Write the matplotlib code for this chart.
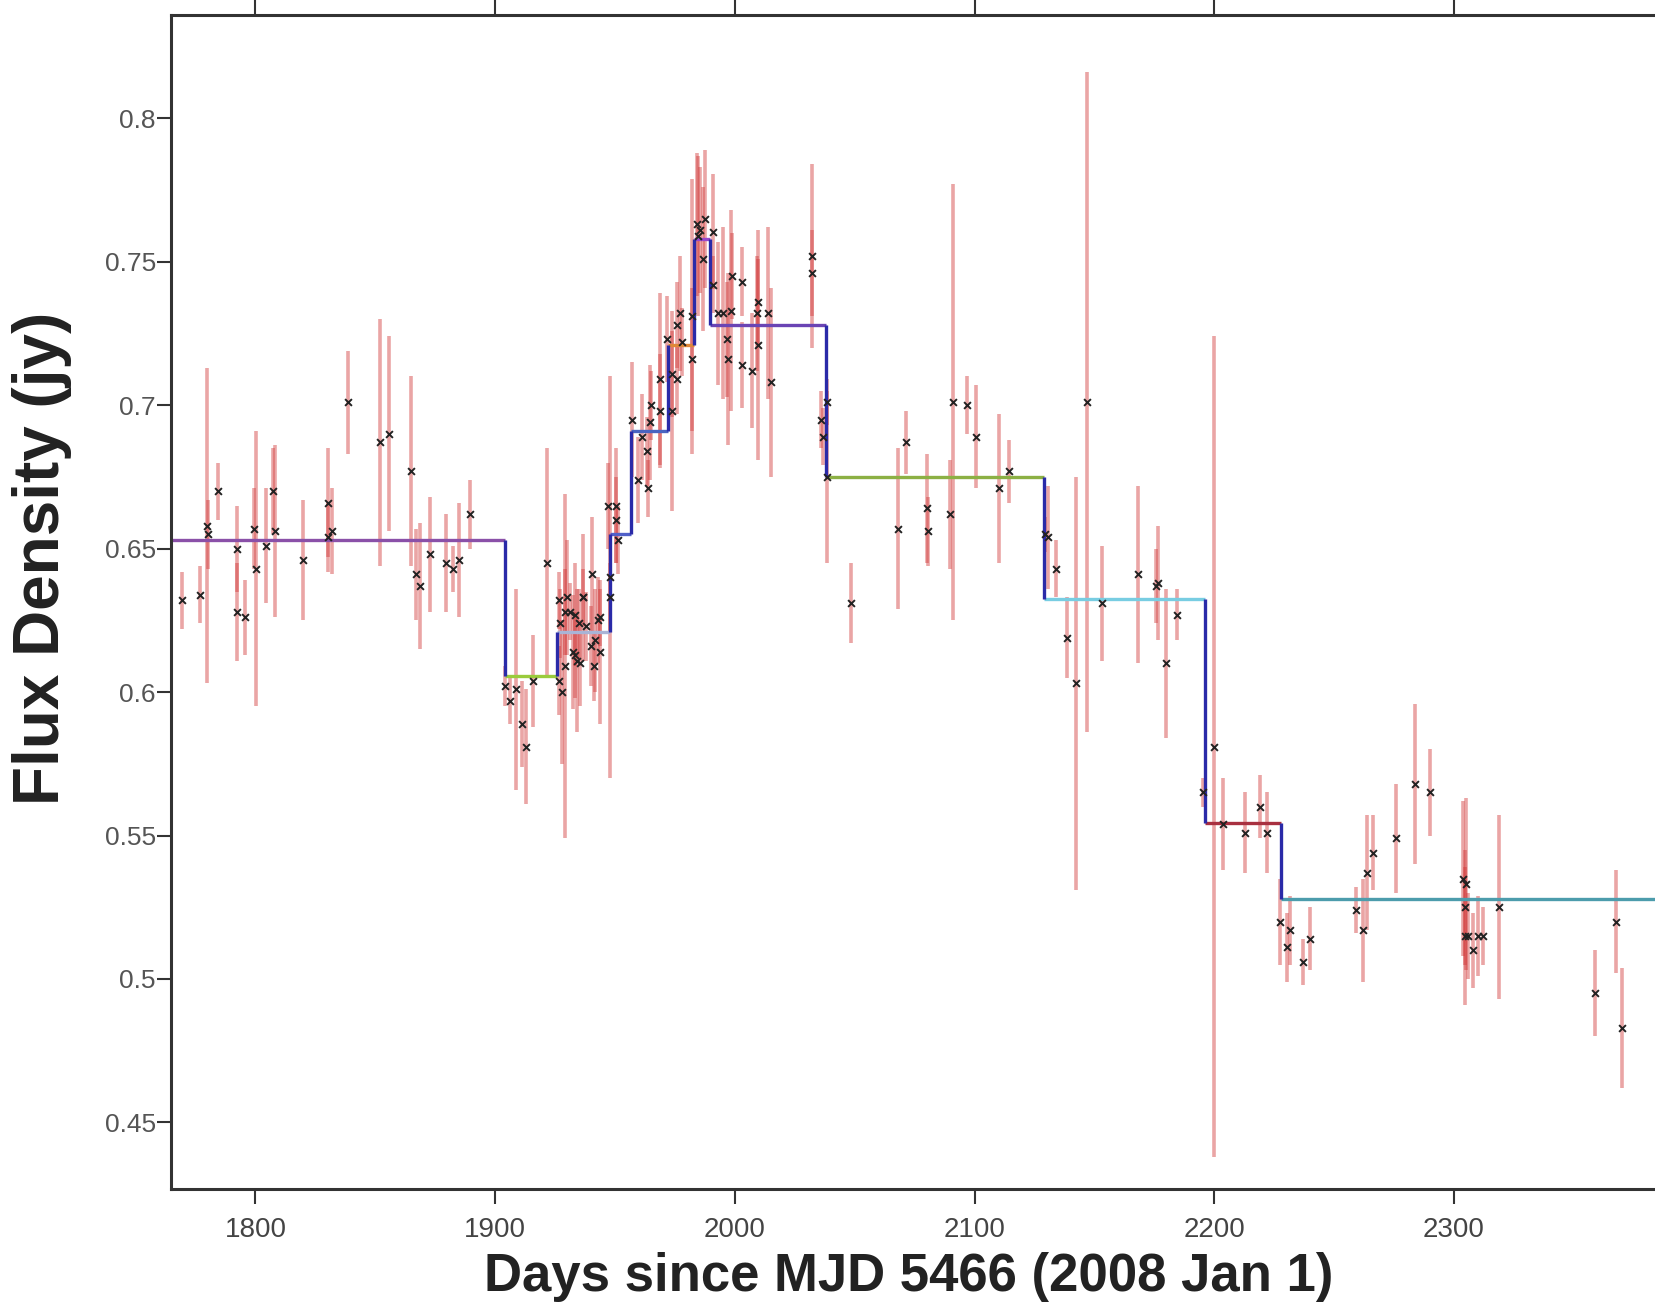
import numpy as np
import matplotlib
matplotlib.use("Agg")
from matplotlib import pyplot as plt

plt.rcParams['font.family'] = ['Liberation Sans', 'DejaVu Sans']

# flux measurements (day, flux in Jy, 1-sigma error)
days = [1769.4, 1776.8, 1779.6, 1780.3, 1784.2, 1792.1, 1792.5, 1795.6, 1799.5, 1800.2,
        1804.2, 1807.4, 1808.2, 1819.9, 1830.2, 1830.3, 1832.0, 1838.8, 1851.9, 1855.8,
        1864.8, 1866.9, 1868.6, 1872.8, 1879.7, 1882.5, 1884.9, 1889.4,
        1904.0, 1906.4, 1908.6, 1911.3, 1912.7, 1915.9, 1921.6,
        1926.6, 1927.7, 1929.3, 1926.6, 1929.1, 1930.0, 1926.9, 1933.2, 1936.7, 1934.0,
        1935.3, 1932.5, 1940.2, 1943.0, 1941.6, 1943.7, 1938.1, 1947.9, 1947.9, 1931.3,
        1934.8, 1936.6, 1940.0, 1943.6, 1941.4, 1933.5,
        1947.2, 1950.6, 1950.4, 1951.3, 1957.2, 1959.7, 1961.1, 1963.2, 1963.8, 1964.5,
        1965.2, 1968.7, 1968.7, 1971.5, 1973.6, 1973.6, 1975.9, 1975.9, 1977.1, 1977.8,
        1982.0, 1982.0, 1984.1, 1984.5, 1985.4, 1986.8, 1987.5, 1991.0, 1991.0,
        1993.1, 1995.1, 1996.8, 1997.2, 1998.6, 1999.0, 2002.8, 2002.8, 2007.0, 2009.5,
        2009.2, 2009.7, 2013.9, 2015.2, 2032.0, 2032.0, 2036.1, 2036.6, 2038.3, 2038.3,
        2048.4, 2068.1, 2071.6, 2080.2, 2080.7, 2089.7, 2091.1, 2097.0, 2100.4, 2110.3,
        2114.4, 2129.4, 2130.7, 2133.9, 2138.6, 2142.3, 2147.0, 2153.2, 2168.2, 2175.6,
        2176.5, 2179.8, 2184.3,
        2195.4, 2199.8, 2203.5, 2213.0, 2219.0, 2221.8, 2227.4, 2230.2, 2231.5, 2237.1,
        2240.0, 2259.1, 2261.9, 2263.6, 2266.3, 2275.8, 2283.7, 2290.0, 2303.8, 2304.5,
        2304.5, 2305.2, 2305.9, 2308.0, 2310.1, 2312.2, 2318.9, 2358.8, 2367.6, 2369.9]

flux = [0.632, 0.634, 0.658, 0.655, 0.670, 0.650, 0.628, 0.626, 0.657, 0.643,
        0.651, 0.670, 0.656, 0.646, 0.654, 0.666, 0.656, 0.701, 0.687, 0.690,
        0.677, 0.641, 0.637, 0.648, 0.645, 0.643, 0.646, 0.662,
        0.602, 0.597, 0.601, 0.589, 0.581, 0.604, 0.645,
        0.604, 0.600, 0.609, 0.632, 0.628, 0.633, 0.624, 0.627, 0.633, 0.611,
        0.610, 0.614, 0.641, 0.625, 0.618, 0.614, 0.623, 0.640, 0.633, 0.628,
        0.624, 0.633, 0.616, 0.626, 0.609, 0.613,
        0.665, 0.665, 0.660, 0.653, 0.695, 0.674, 0.689, 0.684, 0.671, 0.694,
        0.700, 0.709, 0.698, 0.723, 0.698, 0.711, 0.709, 0.728, 0.732, 0.722,
        0.731, 0.716, 0.763, 0.759, 0.761, 0.751, 0.765, 0.7605, 0.742,
        0.732, 0.732, 0.723, 0.716, 0.733, 0.745, 0.743, 0.714, 0.712, 0.736,
        0.732, 0.721, 0.732, 0.708, 0.752, 0.746, 0.695, 0.689, 0.701, 0.675,
        0.631, 0.657, 0.687, 0.664, 0.656, 0.662, 0.701, 0.700, 0.689, 0.671,
        0.677, 0.655, 0.654, 0.643, 0.619, 0.603, 0.701, 0.631, 0.641, 0.637,
        0.638, 0.610, 0.627,
        0.565, 0.581, 0.554, 0.551, 0.560, 0.551, 0.520, 0.511, 0.517, 0.506,
        0.514, 0.524, 0.517, 0.537, 0.544, 0.549, 0.568, 0.565, 0.535, 0.525,
        0.515, 0.533, 0.515, 0.510, 0.515, 0.515, 0.525, 0.495, 0.520, 0.483]

err = [0.010, 0.010, 0.055, 0.012, 0.010, 0.015, 0.017, 0.013, 0.014, 0.048,
       0.020, 0.015, 0.030, 0.021, 0.012, 0.019, 0.015, 0.018, 0.043, 0.034,
       0.033, 0.016, 0.022, 0.020, 0.017, 0.008, 0.020, 0.012,
       0.007, 0.008, 0.035, 0.015, 0.020, 0.016, 0.040,
       0.012, 0.025, 0.060, 0.010, 0.015, 0.020, 0.012, 0.018, 0.022, 0.025,
       0.015, 0.020, 0.020, 0.015, 0.018, 0.025, 0.012, 0.070, 0.012, 0.010,
       0.012, 0.010, 0.014, 0.010, 0.012, 0.015,
       0.015, 0.020, 0.015, 0.012, 0.020, 0.015, 0.015, 0.012, 0.010, 0.020,
       0.012, 0.030, 0.020, 0.015, 0.035, 0.015, 0.012, 0.015, 0.020, 0.012,
       0.048, 0.025, 0.025, 0.028, 0.022, 0.025, 0.024, 0.020, 0.010,
       0.025, 0.030, 0.020, 0.030, 0.035, 0.015, 0.012, 0.015, 0.020, 0.015,
       0.020, 0.040, 0.030, 0.033, 0.032, 0.015, 0.010, 0.010, 0.008, 0.030,
       0.014, 0.028, 0.011, 0.019, 0.012, 0.019, 0.076, 0.010, 0.018, 0.026,
       0.011, 0.006, 0.018, 0.010, 0.014, 0.072, 0.115, 0.020, 0.031, 0.013,
       0.020, 0.026, 0.009,
       0.005, 0.143, 0.016, 0.014, 0.011, 0.014, 0.015, 0.012, 0.012, 0.008,
       0.011, 0.008, 0.018, 0.020, 0.013, 0.019, 0.028, 0.015, 0.027, 0.020,
       0.024, 0.030, 0.015, 0.013, 0.014, 0.010, 0.032, 0.015, 0.018, 0.021]

# Bayesian-block style step levels
block_edges = [1755, 1904, 1926, 1948, 1956.5, 1972, 1983, 1989.5, 2038, 2129, 2196, 2228, 2430]
block_levels = [0.653, 0.6055, 0.621, 0.655, 0.691, 0.721, 0.758, 0.728, 0.675, 0.6325, 0.5545, 0.528]
block_colors = ['#8a50a8', '#9acb3c', '#a9b4d6', '#5060c8', '#4a64c0', '#e08838',
                '#9a48cc', '#6a44b4', '#8cb044', '#78cde2', '#a83040', '#4c9cac']

xticks = [1800, 1900, 2000, 2100, 2200, 2300]
yticks = [0.45, 0.5, 0.55, 0.6, 0.65, 0.7, 0.75, 0.8]

fig = plt.figure(figsize=(16.56, 13.05), dpi=100)
ax = fig.add_axes([0.1033, 0.0889, 0.9484, 0.8996])

ax.errorbar(days, flux, yerr=err, fmt='none', ecolor=(0.82, 0.22, 0.22, 0.45),
            elinewidth=2.6, capsize=0, zorder=1)

ax.hlines(block_levels, block_edges[:-1], block_edges[1:], colors=block_colors,
          linewidth=2.4, zorder=2)
ax.vlines(block_edges[1:-1], block_levels[1:], block_levels[:-1], colors='#2a2aa8',
          linewidth=2.4, zorder=2)

ax.scatter(days, flux, marker='x', s=24, c='#222222', linewidths=1.4, zorder=3)

ax.set_xlim(1764.8, 2420)
ax.set_ylim(0.4268, 0.836)
ax.set_xticks(xticks)
ax.set_xticklabels([str(t) for t in xticks])
ax.set_yticks(yticks)
ax.set_yticklabels(['%g' % t for t in yticks])

ax.tick_params(axis='x', direction='out', length=11, width=1.5, color='#333333',
               labelsize=20, labelcolor='#444444', pad=9, top=True)
ax.tick_params(axis='y', direction='out', length=10, width=1.5, color='#333333',
               labelsize=19, labelcolor='#555555', pad=1)
for s in ax.spines.values():
    s.set_linewidth(2.2)
    s.set_color('#333333')

fig.text(0.5486, 0.0105, 'Days since MJD 5466 (2008 Jan 1)', ha='center', va='baseline',
         fontsize=38, fontweight='bold', color='#222222')
fig.text(0.0254, 0.5724, 'Flux Density (jy)', ha='center', va='center', rotation=90,
         fontsize=46, fontweight='bold', color='#222222')

fig.savefig('out.png', dpi=100)
